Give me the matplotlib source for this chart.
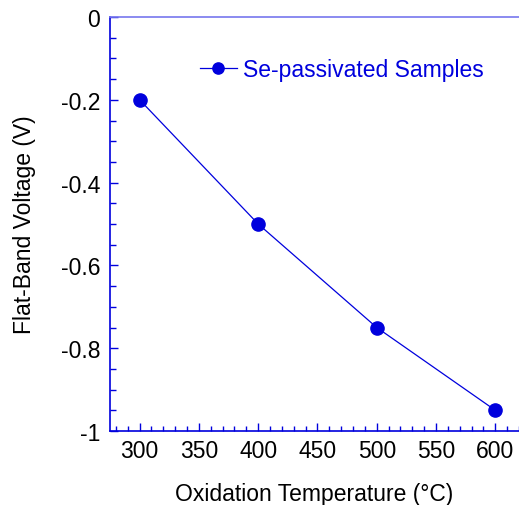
import matplotlib
matplotlib.use("Agg")
import matplotlib.pyplot as plt
from matplotlib.ticker import MultipleLocator

plt.rcParams['font.family'] = ['Liberation Sans', 'DejaVu Sans']

temps = [300, 400, 500, 600]
vfb = [-0.2, -0.5, -0.75, -0.95]
series_label = "Se-passivated Samples"
xlabel = "Oxidation Temperature (°C)"
ylabel = "Flat-Band Voltage (V)"

blue = '#0000dd'
fs = 16.5
fig = plt.figure(figsize=(5.19, 5.06), dpi=100)
ax = fig.add_axes([110/519, (506-432)/506, (519-110)/519, (432-18)/506])

ax.plot(temps, vfb, color=blue, lw=0.9, marker='o', ms=9.5,
        markerfacecolor=blue, markeredgecolor=blue, label=series_label)

ax.set_xlim(275, 620)
ax.set_ylim(-1, 0)
ax.xaxis.set_major_locator(MultipleLocator(50))
ax.xaxis.set_minor_locator(MultipleLocator(10))
ax.yaxis.set_minor_locator(MultipleLocator(0.05))
ax.set_yticks([0, -0.2, -0.4, -0.6, -0.8, -1])
ax.set_yticklabels(['0', '-0.2', '-0.4', '-0.6', '-0.8', '-1'])

ax.spines['right'].set_visible(False)
ax.spines['left'].set_color(blue)
ax.spines['bottom'].set_color(blue)
ax.spines['top'].set_color('#7777ee')
for s in ['left', 'bottom', 'top']:
    ax.spines[s].set_linewidth(1.2)

ax.tick_params(which='both', direction='in', color=blue, labelsize=fs,
               top=False, right=False)
ax.tick_params(axis='y', which='major', length=6, width=1, pad=7)
ax.tick_params(axis='y', which='minor', length=4, width=1)
ax.tick_params(axis='x', which='major', length=6, width=1, pad=6)
ax.tick_params(axis='x', which='minor', length=3.5, width=1)

ax.set_xlabel(xlabel, fontsize=fs, labelpad=14)
ax.set_ylabel(ylabel, fontsize=fs, labelpad=18)

leg = ax.legend(loc='center left', bbox_to_anchor=(0.22, 0.872), frameon=False,
                fontsize=fs, handlelength=1.6, handletextpad=0.26,
                markerscale=0.85, borderpad=0, borderaxespad=0)
for t in leg.get_texts():
    t.set_color(blue)

fig.savefig('out.png', dpi=100)
